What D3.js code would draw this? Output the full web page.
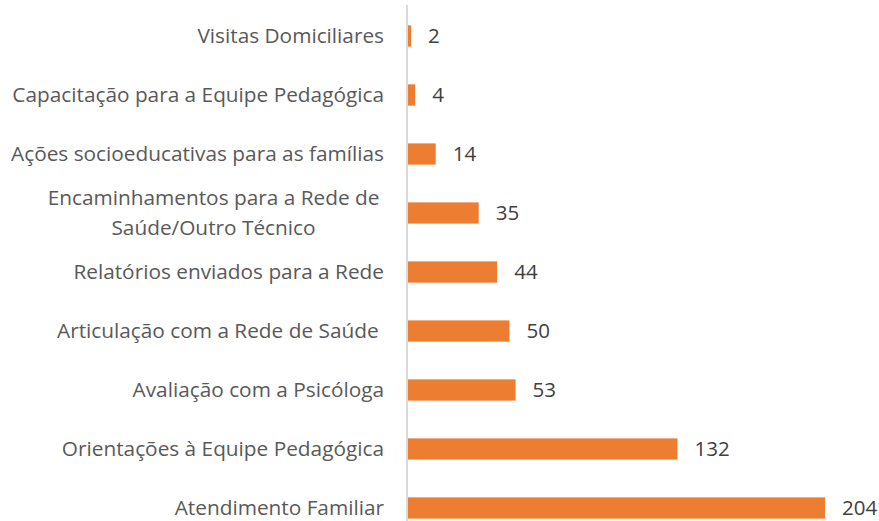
<!DOCTYPE html>
<html>
<head>
<meta charset="utf-8">
<script src="https://cdn.jsdelivr.net/npm/d3@7"></script>
<style>
  body { margin: 0; background: #fff; }
  svg { display: block; font-family: "Open Sans", "Noto Sans", sans-serif; }
  .cat { white-space: pre; }
</style>
</head>
<body>
<div id="wrapper"></div>
<script>
// top to bottom, as in the picture
const categories = [
  "Visitas Domiciliares",
  "Capacitação para a Equipe Pedagógica",
  "Ações socioeducativas para as famílias",
  "Encaminhamentos para a Rede de|Saúde/Outro Técnico",
  "Relatórios enviados para a Rede",
  "Articulação com a Rede de Saúde ",
  "Avaliação com a Psicóloga",
  "Orientações à Equipe Pedagógica",
  "Atendimento Familiar"
];
const values = [2, 4, 14, 35, 44, 50, 53, 132, 204];

const width = 879, height = 521;
const x0 = 407;

var svg = d3.select("#wrapper").append("svg").attr("width", width).attr("height", height);

var x = d3.scaleLinear().domain([0, 204]).range([x0, 825]);
var y = d3.scaleBand().domain(categories).range([6.5, 537.5]).paddingInner(0.64).paddingOuter(0.32);

const data = categories.map((c, i) => ({ cat: c, val: values[i] }));

svg.selectAll(".bar")
  .data(data)
  .enter().append("rect")
  .attr("class", "bar")
  .attr("x", x(0) + 1)
  .attr("y", d => y(d.cat))
  .attr("width", d => x(d.val) - x(0) - 1)
  .attr("height", y.bandwidth())
  .attr("fill", "#ED7D31");

// axis line
svg.append("line")
  .attr("x1", x0).attr("x2", x0)
  .attr("y1", 5).attr("y2", height)
  .attr("stroke", "#d9d9d9").attr("stroke-width", 2);

// category labels
var labels = svg.selectAll(".cat")
  .data(data)
  .enter().append("text")
  .attr("class", "cat")
  .attr("fill", "#595959")
  .style("font-size", "20.8px");

labels.each(function(d) {
  const lines = d.cat.split("|");
  const t = d3.select(this);
  const cy = y(d.cat) + y.bandwidth() / 2;
  if (lines.length === 1) {
    t.attr("x", 384).attr("y", cy).attr("dy", "0.35em").attr("text-anchor", "end").text(lines[0]);
  } else {
    t.attr("text-anchor", "middle").attr("x", 213.5);
    lines.forEach((l, i) => {
      t.append("tspan").attr("x", 213.5).attr("y", cy + (i - 0.5) * 30).attr("dy", "0.35em").text(l);
    });
  }
});

// value labels
svg.selectAll(".val")
  .data(data)
  .enter().append("text")
  .attr("class", "val")
  .attr("x", d => x(d.val) + 17)
  .attr("y", d => y(d.cat) + y.bandwidth() / 2)
  .attr("dy", "0.35em")
  .attr("fill", "#404040")
  .style("font-size", "20.5px")
  .text(d => d.val);
</script>
</body>
</html>
